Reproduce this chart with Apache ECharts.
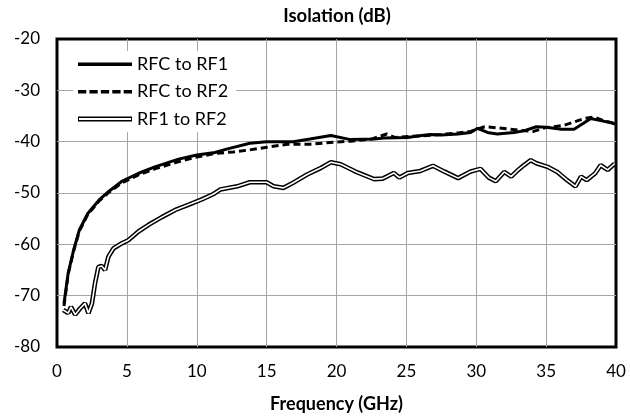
<!DOCTYPE html>
<html>
<head>
<meta charset="utf-8">
<script src="https://cdn.jsdelivr.net/npm/echarts@6/dist/echarts.min.js"></script>
<style>
  html, body { margin: 0; padding: 0; background: #fff; }
  #graph { width: 630px; height: 418px; }
</style>
</head>
<body>
<div id="graph"></div>
<script>
// RFC to RF1 (solid)
var freqRf1 = [0.5, 0.8, 1.2, 1.6, 2.2, 3, 3.7, 4.6, 5.8, 7, 8.7, 10, 11.3, 12.2, 13.8, 15, 16.9, 18.1, 19.6, 21, 22.7, 23.4, 25.1, 25.8, 26.7, 27.5, 28.7, 29.6, 30.1, 30.8, 31.5, 32.7, 33.4, 34.3, 35, 36.1, 37, 38.2, 38.9, 39.5, 40];
var isoRf1 = [-71.5, -65.6, -61, -57.2, -54, -51.4, -49.7, -47.8, -46.2, -44.9, -43.4, -42.6, -42.1, -41.4, -40.3, -40, -40, -39.5, -38.8, -39.6, -39.5, -39.3, -39.2, -38.9, -38.6, -38.7, -38.5, -38.2, -37.4, -38.2, -38.5, -38.2, -37.9, -37.1, -37.2, -37.6, -37.6, -35.5, -35.9, -36.2, -36.6];

// RFC to RF2 (dashed)
var freqRf2 = [0.5, 0.8, 1.2, 1.6, 2.2, 3, 3.7, 4.6, 5.8, 7, 8.7, 10, 11.3, 12.6, 13.8, 15, 16.5, 18.1, 19.8, 21, 22.5, 23.6, 24.2, 25.1, 26.5, 27.5, 28.7, 29.6, 30.6, 31.5, 32.2, 33.2, 34.1, 34.9, 36.3, 37.7, 38.4, 39.2, 40];
var isoRf2 = [-72, -65.8, -61.2, -57.4, -54.2, -51.6, -49.9, -48.1, -46.5, -45.3, -43.9, -43, -42.3, -42, -41.6, -41.1, -40.5, -40.5, -40.1, -39.9, -39.5, -38.5, -39.2, -39, -38.8, -38.6, -38.3, -38, -37.1, -37.3, -37.5, -37.8, -38, -37.3, -36.8, -35.5, -35.2, -36, -36.5];

// RF1 to RF2 (double line)
var freqRf12 = [0.45, 0.8, 1.0, 1.3, 1.65, 2.0, 2.25, 2.5, 2.72, 2.96, 3.2, 3.44, 3.68, 4.04, 4.64, 5.1, 5.83, 6.55, 7.5, 8.46, 9.4, 10.4, 11.2, 11.7, 12.9, 13.8, 15, 15.5, 16.2, 16.9, 17.9, 18.9, 19.6, 20.3, 21.5, 22.7, 23.3, 24.1, 24.5, 25.1, 26, 26.9, 27.7, 28.7, 29.6, 30.3, 30.9, 31.4, 32, 32.5, 33, 33.4, 33.9, 34.3, 35.1, 35.8, 36.5, 37.1, 37.5, 37.9, 38.5, 38.9, 39.4, 39.9];
var isoRf12 = [-72.8, -73.4, -72.2, -73.7, -72.5, -71.5, -73.4, -71.5, -67.6, -64.4, -64.2, -65, -62.4, -60.8, -59.8, -59.2, -57.5, -56.2, -54.7, -53.3, -52.3, -51.2, -50.2, -49.3, -48.7, -47.9, -47.9, -48.7, -49, -48, -46.4, -45.1, -44, -44.4, -46, -47.3, -47.2, -46.1, -47, -46.1, -45.7, -44.7, -45.8, -47.1, -45.8, -45.3, -47, -47.7, -45.9, -46.8, -45.5, -44.6, -43.6, -44.2, -44.9, -45.9, -47.5, -48.7, -46.8, -47.5, -46.2, -44.6, -45.5, -44.3];

var seriesNames = ['RFC to RF1', 'RFC to RF2', 'RF1 to RF2'];

function pairs(xs, ys) {
  return xs.map(function (x, i) { return [x, ys[i]]; });
}

var myChart = echarts.init(document.getElementById('graph'));

var FONT = 'Lato';

var option = {
  animation: false,
  backgroundColor: '#fff',
  title: {
    text: 'Isolation (dB)',
    left: 337,
    top: 7,
    padding: 0,
    textAlign: 'center',
    textStyle: { fontFamily: FONT, fontWeight: 'bold', fontSize: 18.5, color: '#000' }
  },
  legend: {
    orient: 'vertical',
    left: 73,
    top: 51,
    padding: [4, 8, 4, 5],
    backgroundColor: '#fff',
    itemWidth: 54,
    itemHeight: 5,
    itemGap: 9.5,
    itemTextGap: 6,
    symbolKeepAspect: false,
    textStyle: { fontFamily: FONT, fontSize: 18, color: '#000', lineHeight: 18 },
    data: [
      { name: seriesNames[0], icon: 'path://M0,1h54v3.4h-54z M0,0h0.1v0.1h-0.1z M0,4.9h0.1v0.1h-0.1z', itemStyle: { color: '#000' } },
      { name: seriesNames[1], icon: 'path://M0,1h8v3.4h-8z M11,1h8v3.4h-8z M22,1h8v3.4h-8z M33,1h8v3.4h-8z M44,1h8v3.4h-8z M0,0h0.1v0.1h-0.1z M0,4.9h0.1v0.1h-0.1z', itemStyle: { color: '#000' } },
      { name: seriesNames[2], icon: 'path://M0,0h54v5h-54z M1,1.6v1.8h52v-1.8z', itemStyle: { color: '#000' } }
    ]
  },
  grid: {
    left: 57,
    right: 14,
    top: 39,
    bottom: 71,
    outerBoundsMode: 'none',
    show: true,
    borderColor: '#000',
    borderWidth: 3
  },
  xAxis: {
    type: 'value',
    min: 0,
    max: 40,
    interval: 5,
    name: 'Frequency (GHz)',
    nameLocation: 'middle',
    nameGap: 48,
    nameTextStyle: { fontFamily: FONT, fontWeight: 'bold', fontSize: 18, color: '#000' },
    axisLine: { show: false },
    axisTick: { show: false },
    axisLabel: { fontFamily: FONT, fontSize: 17, color: '#000', margin: 16 },
    splitLine: { show: true, showMinLine: false, showMaxLine: false, lineStyle: { color: '#a6a6a6', width: 1 } }
  },
  yAxis: {
    type: 'value',
    min: -80,
    max: -20,
    interval: 10,
    axisLine: { show: false },
    axisTick: { show: false },
    axisLabel: { fontFamily: FONT, fontSize: 17, color: '#000', margin: 17 },
    splitLine: { show: true, showMinLine: false, showMaxLine: false, lineStyle: { color: '#a6a6a6', width: 1 } }
  },
  series: [
    {
      name: seriesNames[2],
      type: 'line',
      data: pairs(freqRf12, isoRf12),
      symbol: 'none',
      color: '#000',
      lineStyle: { color: '#000', width: 4.6 },
      z: 2
    },
    {
      name: 'RF1 to RF2 core',
      type: 'line',
      data: pairs(freqRf12, isoRf12),
      symbol: 'none',
      color: '#fff',
      lineStyle: { color: '#fff', width: 1.6 },
      z: 3
    },
    {
      name: seriesNames[1],
      type: 'line',
      data: pairs(freqRf2, isoRf2),
      symbol: 'none',
      color: '#000',
      lineStyle: { color: '#000', width: 3, type: [7, 4] },
      z: 4
    },
    {
      name: seriesNames[0],
      type: 'line',
      data: pairs(freqRf1, isoRf1),
      symbol: 'none',
      color: '#000',
      lineStyle: { color: '#000', width: 3 },
      z: 5
    }
  ]
};

myChart.setOption(option);
</script>
</body>
</html>
